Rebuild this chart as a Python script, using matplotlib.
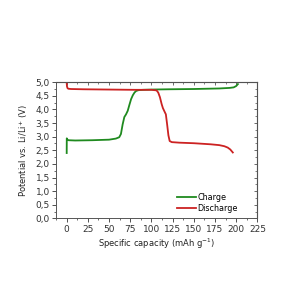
import matplotlib
matplotlib.use("Agg")
import matplotlib.pyplot as plt
from matplotlib.ticker import MultipleLocator, FuncFormatter

charge_x = [0, 0.1, 0.5, 2, 10, 30, 50, 58, 62, 64, 66, 68, 70, 72, 74, 76, 78, 80, 82, 85, 90, 100, 120, 150, 180, 192, 197, 200, 202]
charge_y = [2.40, 2.94, 2.90, 2.87, 2.86, 2.87, 2.89, 2.93, 2.98, 3.10, 3.45, 3.72, 3.82, 3.95, 4.17, 4.38, 4.52, 4.62, 4.68, 4.71, 4.72, 4.73, 4.74, 4.75, 4.77, 4.79, 4.81, 4.86, 4.93]

discharge_x = [0, 0.3, 1, 2, 5, 20, 50, 80, 100, 106, 108, 110, 112, 113.5, 115, 117, 118.5, 120, 121.5, 124, 133, 150, 170, 180, 186, 190, 193, 196]
discharge_y = [4.98, 4.85, 4.78, 4.76, 4.75, 4.74, 4.73, 4.72, 4.72, 4.70, 4.62, 4.45, 4.20, 4.05, 3.95, 3.82, 3.45, 3.05, 2.84, 2.80, 2.78, 2.76, 2.72, 2.69, 2.65, 2.60, 2.53, 2.42]

x_ticks = [0, 25, 50, 75, 100, 125, 150, 175, 200, 225]

fig = plt.figure(figsize=(3, 3), dpi=100)
ax = fig.add_axes([0.187, 0.272, 0.671, 0.454])
ax.plot(charge_x, charge_y, color="#1f8a1f", lw=1.3, label="Charge")
ax.plot(discharge_x, discharge_y, color="#cc2222", lw=1.3, label="Discharge")

ax.set_xlim(-12.5, 224)
ax.set_ylim(0, 5)
ax.set_xticks(x_ticks)
ax.xaxis.set_minor_locator(MultipleLocator(12.5))
ax.yaxis.set_major_locator(MultipleLocator(0.5))
ax.yaxis.set_minor_locator(MultipleLocator(0.25))
ax.yaxis.set_major_formatter(FuncFormatter(lambda v, p: f"{v:.1f}".replace(".", ",")))

ax.tick_params(axis="both", which="major", labelsize=6.5, length=3, width=0.6, direction="out", pad=1.5, colors="#333333")
ax.tick_params(axis="both", which="minor", length=1.5, width=0.5, direction="out", colors="#333333")
for sp in ax.spines.values():
    sp.set_linewidth(0.7)
    sp.set_color("#555555")

# top/right ticks inward via secondary axes
secx = ax.secondary_xaxis("top")
secx.set_xticks(x_ticks)
secx.xaxis.set_minor_locator(MultipleLocator(12.5))
secx.tick_params(which="both", direction="in", labeltop=False, colors="#555555")
secx.tick_params(which="major", length=2.5, width=0.6)
secx.tick_params(which="minor", length=1.5, width=0.5)
secy = ax.secondary_yaxis("right")
secy.yaxis.set_major_locator(MultipleLocator(0.5))
secy.yaxis.set_minor_locator(MultipleLocator(0.25))
secy.tick_params(which="both", direction="in", labelright=False, colors="#555555")
secy.tick_params(which="major", length=2.5, width=0.6)
secy.tick_params(which="minor", length=1.5, width=0.5)

ax.set_xlabel("Specific capacity (mAh g$^{-1}$)", fontsize=6.0, labelpad=2, color="#222222")
ax.set_ylabel("Potential vs. Li/Li$^{+}$ (V)", fontsize=6.0, labelpad=4, color="#222222")

ax.legend(loc="lower right", frameon=False, fontsize=5.8, handlelength=2.3,
          handletextpad=0.2, labelspacing=0.2, borderaxespad=0.3,
          bbox_to_anchor=(0.93, 0.0))

fig.savefig("out.png", dpi=100)
